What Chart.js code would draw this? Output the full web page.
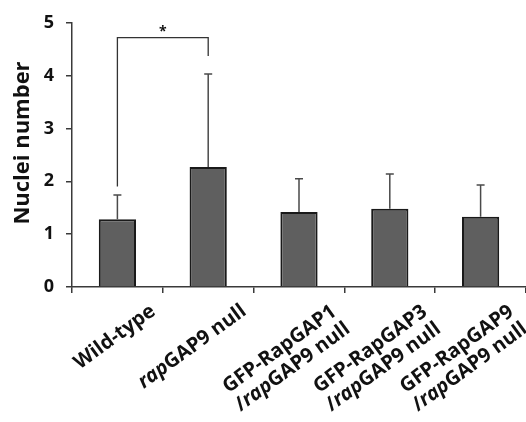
<!DOCTYPE html>
<html>
<head>
<meta charset="utf-8">
<script src="https://cdn.jsdelivr.net/npm/chart.js@4"></script>
<style>
    html, body { margin: 0; padding: 0; background: #fff; }
    #wrap { width: 526px; height: 422px; position: relative; }
</style>
</head>
<body>
<div id="wrap"><canvas id="chart"></canvas></div>
<script>
// 資料
const groups = [
    ['Wild-type'],
    ['_rap_GAP9 null'],
    ['GFP-RapGAP1', '/_rap_GAP9 null'],
    ['GFP-RapGAP3', '/_rap_GAP9 null'],
    ['GFP-RapGAP9', '/_rap_GAP9 null']
];
const meanValues = [1.28, 2.27, 1.42, 1.48, 1.33];
const errorTop = [1.74, 4.03, 2.05, 2.14, 1.93];
const yTicks = [0, 1, 2, 3, 4, 5];
const yTitle = 'Nuclei number';

// 顯著性標記 (wild-type vs rapGAP9 null)
const sigPair = [0, 1];
const sigLevel = 4.72;
const sigLegEnds = [1.9, 4.37];
const sigMark = '*';

const FONT = '"Open Sans", "DejaVu Sans", sans-serif';
const AXIS_COLOR = '#3a3a3a';

/**
 * 誤差線、顯著性括號、類別標籤
 */
const extrasPlugin = {
    id: 'extras',
    afterDatasetsDraw(chart) {
        const ctx = chart.ctx;
        const y = chart.scales.y;
        const meta = chart.getDatasetMeta(0);

        ctx.save();
        ctx.strokeStyle = '#4a4a4a';
        ctx.lineWidth = 1.5;
        meta.data.forEach((bar, i) => {
            const top = y.getPixelForValue(errorTop[i]);
            const base = y.getPixelForValue(meanValues[i]);
            ctx.beginPath();
            ctx.moveTo(bar.x, base);
            ctx.lineTo(bar.x, top);
            ctx.moveTo(bar.x - 4, top);
            ctx.lineTo(bar.x + 4, top);
            ctx.stroke();
        });

        // 括號
        const xa = meta.data[sigPair[0]].x;
        const xb = meta.data[sigPair[1]].x;
        const yl = y.getPixelForValue(sigLevel);
        ctx.strokeStyle = '#333';
        ctx.lineWidth = 1.3;
        ctx.beginPath();
        ctx.moveTo(xa, y.getPixelForValue(sigLegEnds[0]));
        ctx.lineTo(xa, yl);
        ctx.lineTo(xb, yl);
        ctx.lineTo(xb, y.getPixelForValue(sigLegEnds[1]));
        ctx.stroke();
        ctx.fillStyle = '#111';
        ctx.font = 'bold 14px ' + FONT;
        ctx.textAlign = 'center';
        ctx.textBaseline = 'bottom';
        ctx.fillText(sigMark, (xa + xb) / 2, yl + 1);
        ctx.restore();
    },
    afterDraw(chart) {
        const ctx = chart.ctx;
        const x = chart.scales.x;
        const y = chart.scales.y;
        const angle = 36 * Math.PI / 180;
        const size = 20;
        const lh = 22;

        ctx.save();
        ctx.fillStyle = '#111';
        ctx.textBaseline = 'top';
        ctx.textAlign = 'left';

        const segs = line => line.split('_').map((t, k) => ({ t, it: k % 2 === 1 })).filter(s => s.t);
        const fontOf = s => (s.it ? 'italic ' : '') + 'bold ' + size + 'px ' + FONT;
        const widthOf = line => segs(line).reduce((w, s) => { ctx.font = fontOf(s); return w + ctx.measureText(s.t).width; }, 0);

        groups.forEach((lines, i) => {
            const widths = lines.map(widthOf);
            const W = Math.max(...widths);
            const H = lines.length * lh;
            let ax = x.getPixelForValue(i) + 30;
            ax = Math.min(ax, chart.width - H * Math.sin(angle) + 6);
            const ay = y.bottom + 14;
            ctx.save();
            ctx.translate(ax, ay);
            ctx.rotate(-angle);
            lines.forEach((line, j) => {
                let cx = -(W + widths[j]) / 2;
                segs(line).forEach(s => {
                    ctx.font = fontOf(s);
                    ctx.fillText(s.t, cx, j * lh);
                    cx += ctx.measureText(s.t).width;
                });
            });
            ctx.restore();
        });

        // 軸標題
        ctx.translate(23, 143);
        ctx.rotate(-Math.PI / 2);
        ctx.font = 'bold 22px ' + FONT;
        ctx.textAlign = 'center';
        ctx.textBaseline = 'middle';
        ctx.fillText(yTitle, 0, 0);
        ctx.restore();
    }
};

new Chart(document.getElementById('chart'), {
    type: 'bar',
    data: {
        labels: groups.map(g => g.join(' ').replace(/_/g, '')),
        datasets: [{
            data: meanValues,
            backgroundColor: '#5f5f5f',
            borderColor: '#1a1a1a',
            borderWidth: 2,
            borderSkipped: 'bottom',
            barPercentage: 0.41,
            categoryPercentage: 1
        }]
    },
    options: {
        responsive: true,
        maintainAspectRatio: false,
        animation: false,
        layout: { padding: { top: 18, right: 0, left: 0, bottom: 0 } },
        plugins: {
            legend: { display: false },
            tooltip: { enabled: false }
        },
        scales: {
            x: {
                grid: { drawOnChartArea: false, tickLength: 6, color: AXIS_COLOR, lineWidth: 1.5 },
                border: { color: AXIS_COLOR, width: 1.5 },
                ticks: { display: false },
                afterFit(scale) { scale.height = 135; }
            },
            y: {
                min: 0,
                max: 5,
                afterBuildTicks(scale) { scale.ticks = yTicks.map(v => ({ value: v })); },
                grid: { drawOnChartArea: false, tickLength: 6, color: AXIS_COLOR, lineWidth: 1.5 },
                border: { color: AXIS_COLOR, width: 1.5 },
                ticks: {
                    padding: 12,
                    color: '#111',
                    font: { family: FONT, size: 18, weight: 'bold' }
                },
                afterFit(scale) { scale.width = 72; }
            }
        }
    },
    plugins: [extrasPlugin]
});
</script>
</body>
</html>
